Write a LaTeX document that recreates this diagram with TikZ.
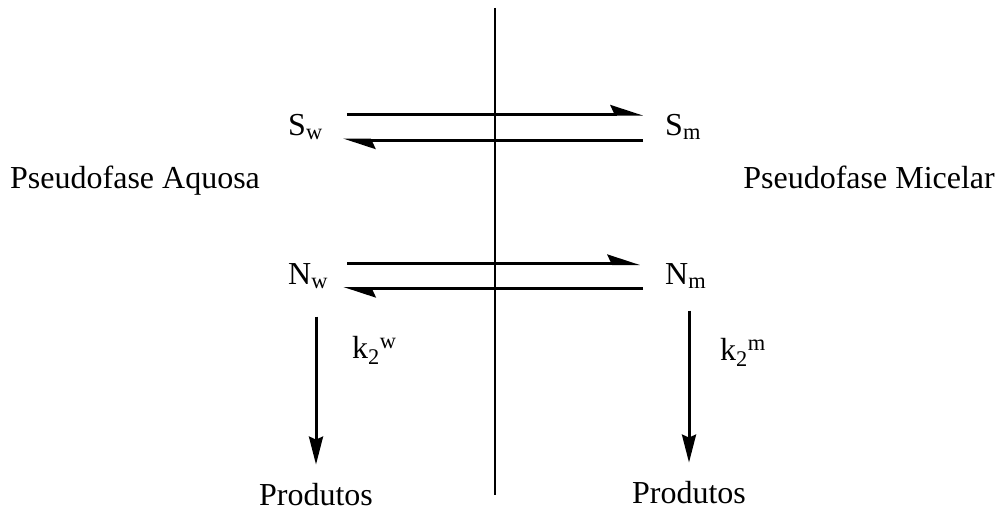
\documentclass[tikz,border=0pt]{standalone}
\usepackage{fontspec}
\setmainfont{Liberation Serif}
\usetikzlibrary{arrows.meta}

\begin{document}
\begin{tikzpicture}[
				x=1pt, y=-1pt,
				species/.style={inner sep=0pt, font=\fontsize{32}{38}\selectfont},
				phase/.style={inner sep=0pt, font=\fontsize{32}{38}\selectfont},
				transfer/.style={line width=3pt, -{Stealth[harpoon, length=28pt, width=18pt, inset=4pt]}},
				reaction/.style={line width=3pt, -{Stealth[length=28pt, width=14pt, inset=3pt]}}
				]
				
				\useasboundingbox (0,0) rectangle (1001,511);
				
				% interface between the pseudophases
				\draw[line width=2.5pt] (495,8) -- (495,495);
				
				\node[phase, anchor=base west] (aq) at (10,188) {Pseudofase Aquosa};
				\node[phase, anchor=base east] (mic) at (995,188) {Pseudofase Micelar};
				
				\node[species, anchor=west] (Sw) at (288,127) {S\textsubscript{w}};
				\node[species, anchor=west] (Sm) at (665,127) {S\textsubscript{m}};
				\node[species, anchor=west] (Nw) at (288,276) {N\textsubscript{w}};
				\node[species, anchor=west] (Nm) at (665,276) {N\textsubscript{m}};
				
				\node[species, anchor=base] (Pw) at (316,505) {Produtos};
				\node[species, anchor=base] (Pm) at (689,503) {Produtos};
				
				\node[species, anchor=base west] (kw) at (352,358) {k\textsubscript{2}\textsuperscript{w}};
				\node[species, anchor=base west] (km) at (720,360) {k\textsubscript{2}\textsuperscript{m}};
				
				\draw[transfer, shorten <=24pt, shorten >=22pt] ([yshift=13pt]Sw.east) -- ([yshift=13pt]Sm.west);
				\draw[transfer, shorten <=22pt, shorten >=20pt] ([yshift=-13pt]Sm.west) -- ([yshift=-13pt]Sw.east);
				\draw[transfer, shorten <=19pt, shorten >=25pt] ([yshift=12.5pt]Nw.east) -- ([yshift=12.5pt]Nm.west);
				\draw[transfer, shorten <=22pt, shorten >=15pt] ([yshift=-12.5pt]Nm.west) -- ([yshift=-12.5pt]Nw.east);
				
				\draw[reaction, shorten <=28pt, shorten >=18pt] (Nw.south -| Pw.north) -- (Pw.north);
				\draw[reaction, shorten <=22pt, shorten >=18pt] (Nm.south -| Pm.north) -- (Pm.north);
			\end{tikzpicture}
\end{document}
